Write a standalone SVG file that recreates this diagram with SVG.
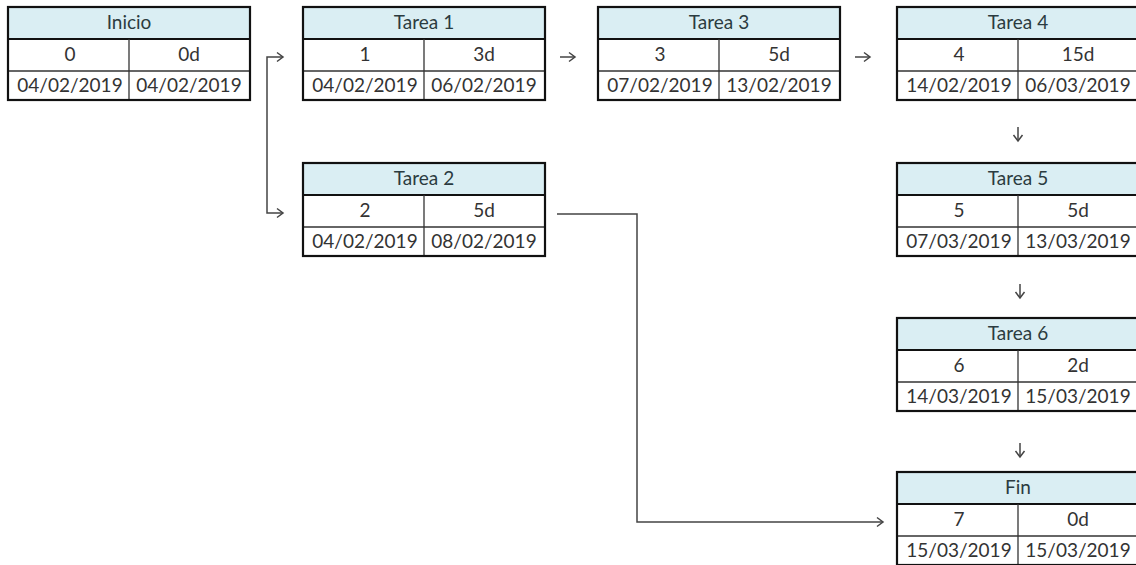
<svg xmlns="http://www.w3.org/2000/svg" width="1136" height="565" viewBox="0 0 1136 565">
<style>
.hd{fill:#daeef3}
.bg{fill:#ffffff}
.ob{fill:none;stroke:#111;stroke-width:2.2}
.ln{stroke:#333;stroke-width:1.3}
.lt{stroke:#111;stroke-width:2}
.t{font-family:Lato,"Liberation Sans",sans-serif;font-size:19px;fill:#333;text-anchor:middle}
.h{fill:#2b3b40}
.c{fill:none;stroke:#444;stroke-width:1.5}
</style>
<defs>
<marker id="ah" markerUnits="userSpaceOnUse" markerWidth="12" markerHeight="12" refX="7" refY="6" orient="auto">
<path d="M1,1.5 L7,6 L1,10.5" fill="none" stroke="#444" stroke-width="1.5"/>
</marker>
<g id="box">
<rect class="bg" x="0" y="0" width="242" height="93"/>
<rect class="hd" x="0" y="0" width="242" height="32"/>
<line class="lt" x1="0" y1="32" x2="242" y2="32"/>
<line class="ln" x1="0" y1="64" x2="242" y2="64"/>
<line class="ln" x1="121" y1="32" x2="121" y2="93"/>
<rect class="ob" x="0" y="0" width="242" height="93"/>
</g>
</defs>
<rect width="1136" height="565" fill="#fff"/>
<g id="connectors">
<path class="c" d="M267,135 V57 H283" marker-end="url(#ah)"/>
<path class="c" d="M267,135 V213 H283" marker-end="url(#ah)"/>
<path class="c" d="M557,214 H637 V522 H883" marker-end="url(#ah)"/>
<path class="c" d="M560,57 H575" marker-end="url(#ah)"/>
<path class="c" d="M855,57 H870" marker-end="url(#ah)"/>
<path class="c" d="M1018,127 V141" marker-end="url(#ah)"/>
<path class="c" d="M1020,284 V298" marker-end="url(#ah)"/>
<path class="c" d="M1020,443 V457" marker-end="url(#ah)"/>
</g>
<g id="inicio" transform="translate(8,7)">
<use href="#box"/>
<text class="t h" x="121" y="22">Inicio</text>
<text class="t" x="62" y="54">0</text><text class="t" x="181" y="54">0d</text>
<text class="t" x="62" y="85">04/02/2019</text><text class="t" x="181" y="85">04/02/2019</text>
</g>
<g id="tarea1" transform="translate(303,7)">
<use href="#box"/>
<text class="t h" x="121" y="22">Tarea 1</text>
<text class="t" x="62" y="54">1</text><text class="t" x="181" y="54">3d</text>
<text class="t" x="62" y="85">04/02/2019</text><text class="t" x="181" y="85">06/02/2019</text>
</g>
<g id="tarea3" transform="translate(598,7)">
<use href="#box"/>
<text class="t h" x="121" y="22">Tarea 3</text>
<text class="t" x="62" y="54">3</text><text class="t" x="181" y="54">5d</text>
<text class="t" x="62" y="85">07/02/2019</text><text class="t" x="181" y="85">13/02/2019</text>
</g>
<g id="tarea4" transform="translate(897,7)">
<use href="#box"/>
<text class="t h" x="121" y="22">Tarea 4</text>
<text class="t" x="62" y="54">4</text><text class="t" x="181" y="54">15d</text>
<text class="t" x="62" y="85">14/02/2019</text><text class="t" x="181" y="85">06/03/2019</text>
</g>
<g id="tarea2" transform="translate(303,163)">
<use href="#box"/>
<text class="t h" x="121" y="22">Tarea 2</text>
<text class="t" x="62" y="54">2</text><text class="t" x="181" y="54">5d</text>
<text class="t" x="62" y="85">04/02/2019</text><text class="t" x="181" y="85">08/02/2019</text>
</g>
<g id="tarea5" transform="translate(897,163)">
<use href="#box"/>
<text class="t h" x="121" y="22">Tarea 5</text>
<text class="t" x="62" y="54">5</text><text class="t" x="181" y="54">5d</text>
<text class="t" x="62" y="85">07/03/2019</text><text class="t" x="181" y="85">13/03/2019</text>
</g>
<g id="tarea6" transform="translate(897,318)">
<use href="#box"/>
<text class="t h" x="121" y="22">Tarea 6</text>
<text class="t" x="62" y="54">6</text><text class="t" x="181" y="54">2d</text>
<text class="t" x="62" y="85">14/03/2019</text><text class="t" x="181" y="85">15/03/2019</text>
</g>
<g id="fin" transform="translate(897,472)">
<use href="#box"/>
<text class="t h" x="121" y="22">Fin</text>
<text class="t" x="62" y="54">7</text><text class="t" x="181" y="54">0d</text>
<text class="t" x="62" y="85">15/03/2019</text><text class="t" x="181" y="85">15/03/2019</text>
</g>
</svg>
